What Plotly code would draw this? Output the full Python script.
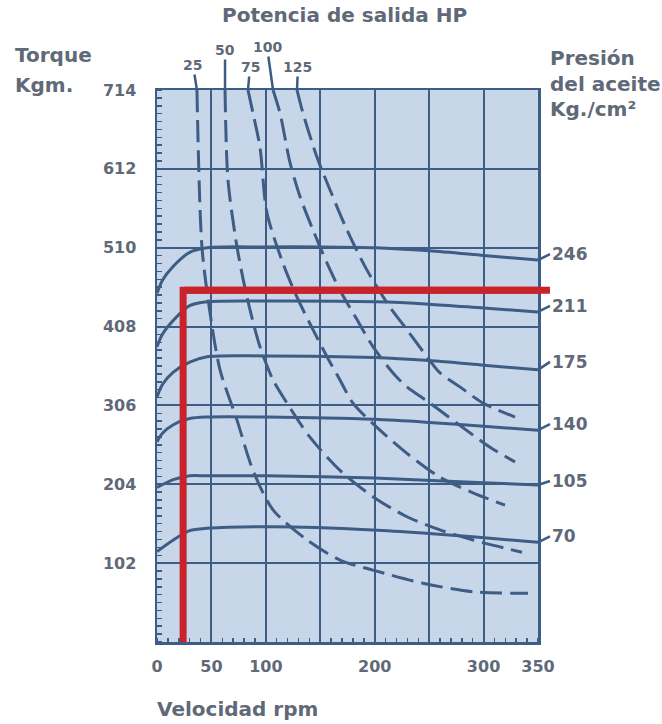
import plotly.graph_objects as go

# ---------------- data ----------------
rpm_ticks = [0, 50, 100, 150, 200, 250, 300, 350]
rpm_labels = ["0", "50", "100", "", "200", "", "300", "350"]
torque_ticks = [0, 102, 204, 306, 408, 510, 612, 714]
torque_labels = ["", "102", "204", "306", "408", "510", "612", "714"]

# oil-pressure curves (Kg/cm2): torque (Kgm) vs speed (rpm)
p246_rpm = [0, 5, 15, 30, 46, 100, 150, 200, 250, 300, 350]
p246_torque = [451, 468, 486, 504, 510, 511, 511, 510, 506, 500, 494]
p211_rpm = [0, 5, 15, 30, 46, 100, 200, 250, 300, 350]
p211_torque = [382, 398, 416, 435, 440, 441, 440, 437, 432, 427]
p175_rpm = [0, 5, 15, 30, 46, 100, 200, 250, 300, 350]
p175_torque = [317, 333, 349, 362, 369, 370, 368, 364, 358, 352]
p140_rpm = [0, 5, 15, 30, 46, 100, 200, 250, 300, 350]
p140_torque = [259, 270, 281, 289, 291, 291, 288, 284, 279, 274]
p105_rpm = [0, 15, 30, 46, 100, 200, 300, 350]
p105_torque = [200, 210, 215, 215, 215, 212, 206, 203]
p70_rpm = [0, 15, 30, 46, 107, 198, 244, 290, 350]
p70_torque = [117, 132, 144, 147, 149, 145, 141, 136, 129]
pressure_labels = ["246", "211", "175", "140", "105", "70"]

# output-power curves (HP), dashed
hp25_rpm = [36.7, 41.3, 48.7, 57.9, 73.5, 88.2, 106.6, 137.8, 168.1, 198.4, 244.3, 290.3, 340.8]
hp25_torque = [714, 511, 426, 352, 287, 222, 171, 132, 106, 93, 76, 65, 63]
hp50_rpm = [62.5, 65.2, 73.5, 82.7, 94.6, 106.6, 119.4, 140.5, 168.1, 198.4, 229.6, 260, 290.3, 335.3]
hp50_torque = [714, 598, 511, 446, 382, 339, 309, 265, 222, 188, 162, 145, 132, 116]
hp75_rpm = [83.6, 88.2, 94.6, 101, 115.7, 128.6, 143.3, 156.2, 168.1, 180, 204.8, 229.6, 260, 290.3, 319.7]
hp75_torque = [714, 684, 640, 555, 490, 446, 404, 369, 339, 309, 274, 244, 213, 193, 177]
hp100_rpm = [106.6, 113, 122.2, 131.4, 143.3, 156.2, 168.1, 183.7, 198.4, 216.8, 229.6, 250.8, 275.6, 305.9, 328.9]
hp100_torque = [714, 684, 620, 576, 533, 490, 455, 417, 382, 348, 330, 309, 283, 252, 233]
hp125_rpm = [128.6, 134.1, 147, 158.9, 174.5, 192.9, 214, 229.6, 248, 260, 278.3, 299.5, 328.9]
hp125_torque = [714, 684, 627, 585, 533, 481, 433, 404, 369, 348, 330, 309, 291]
hp_labels = ["25", "50", "75", "100", "125"]

# operating point (red)
op_rpm = [24, 24, 361]
op_torque = [0, 455, 455]

# ---------------- style ----------------
BLUE = "#3e5d84"
BG = "#c8d6ea"
TXT = "#5f6977"
RED = "#c8232b"
FONT = "DejaVu Sans"

fig = go.Figure()

pressure_series = [
    (p246_rpm, p246_torque), (p211_rpm, p211_torque), (p175_rpm, p175_torque),
    (p140_rpm, p140_torque), (p105_rpm, p105_torque), (p70_rpm, p70_torque),
]
for (xs, ys), lab in zip(pressure_series, pressure_labels):
    fig.add_trace(go.Scatter(x=xs, y=ys, mode="lines", name=lab,
                             line=dict(color=BLUE, width=3, shape="spline", smoothing=0.8),
                             hoverinfo="skip", showlegend=False))

hp_series = [
    (hp25_rpm, hp25_torque), (hp50_rpm, hp50_torque), (hp75_rpm, hp75_torque),
    (hp100_rpm, hp100_torque), (hp125_rpm, hp125_torque),
]
for (xs, ys), lab in zip(hp_series, hp_labels):
    fig.add_trace(go.Scatter(x=xs, y=ys, mode="lines", name=lab + " HP",
                             line=dict(color=BLUE, width=3, dash="22px,8px",
                                       shape="spline", smoothing=0.8),
                             hoverinfo="skip", showlegend=False))

fig.add_trace(go.Scatter(x=op_rpm, y=op_torque, mode="lines",
                         line=dict(color=RED, width=7), hoverinfo="skip",
                         showlegend=False))

annotations = []
# red horizontal line overshoots the right border
annotations.append(dict(x=op_rpm[2], y=op_torque[2], ax=op_rpm[1], ay=op_torque[1],
                        xref="x", yref="y", axref="x", ayref="y", text="",
                        showarrow=True, arrowhead=0, arrowwidth=7, arrowcolor=RED))

# pressure labels at right end of each curve
label_offsets = [-6, -6, -8, -6, -4, -6]
for (xs, ys), lab, off in zip(pressure_series, pressure_labels, label_offsets):
    annotations.append(dict(x=xs[-1], y=ys[-1], xref="x", yref="y", text="<b>%s</b>" % lab,
                            showarrow=True, arrowhead=0, arrowwidth=2.5, arrowcolor=BLUE,
                            ax=12, ay=off, xanchor="left",
                            font=dict(family=FONT, size=17, color=TXT)))

# HP labels above plot with leader lines
hp_offsets = [(-4, -25), (0, -40), (2, -23), (-6, -43), (1, -23)]
for (xs, ys), lab, (dx, dy) in zip(hp_series, hp_labels, hp_offsets):
    annotations.append(dict(x=xs[0], y=ys[0], xref="x", yref="y", text="<b>%s</b>" % lab,
                            showarrow=True, arrowhead=0, arrowwidth=2.5, arrowcolor=BLUE,
                            ax=dx, ay=dy,
                            font=dict(family=FONT, size=14, color=TXT)))

def ptext(txt, x, y, size=20, xanchor="left"):
    return dict(text="<b>%s</b>" % txt, x=x, y=y, xref="paper", yref="paper",
                xanchor=xanchor, yanchor="middle", showarrow=False,
                font=dict(family=FONT, size=size, color=TXT))

annotations += [
    ptext("Potencia de salida HP", 0.491, 1.136, 20, "center"),
    ptext("Torque", -0.378, 1.063),
    ptext("Kgm.", -0.378, 1.009),
    ptext("Presión", 1.026, 1.058),
    ptext("del aceite", 1.026, 1.011),
    ptext("Kg./cm²", 1.026, 0.966),
    ptext("Velocidad rpm", -0.005, -0.121),
]

fig.update_layout(
    width=662, height=724,
    margin=dict(l=157, r=124, t=90, b=82),
    paper_bgcolor="white", plot_bgcolor=BG,
    showlegend=False,
    annotations=annotations,
    font=dict(family=FONT, color=TXT),
)

fig.update_xaxes(
    range=[0, 350], tickmode="array", tickvals=rpm_ticks, ticktext=rpm_labels,
    showgrid=True, gridcolor=BLUE, gridwidth=2, zeroline=False,
    showline=True, linecolor=BLUE, linewidth=2.5, mirror=True,
    ticks="", ticklabelstandoff=8,
    tickfont=dict(family=FONT, size=16, color=TXT, weight="bold"),
    minor=dict(ticks="inside", ticklen=4, tickcolor=BLUE, tickwidth=1.5,
               tickmode="linear", tick0=0, dtick=10, showgrid=False),
    fixedrange=True,
)
fig.update_yaxes(
    range=[0, 714], tickmode="array", tickvals=torque_ticks, ticktext=torque_labels,
    showgrid=True, gridcolor=BLUE, gridwidth=2, zeroline=False,
    showline=True, linecolor=BLUE, linewidth=2.5, mirror=True,
    ticks="", ticklabelstandoff=15,
    tickfont=dict(family=FONT, size=16, color=TXT, weight="bold"),
    minor=dict(ticks="inside", ticklen=5, tickcolor=BLUE, tickwidth=1.5,
               tickmode="linear", tick0=0, dtick=10.2, showgrid=False),
    fixedrange=True,
)

fig.write_html(
    "out.html",
    config={"displayModeBar": False, "staticPlot": True},
    post_script="document.body.style.margin='0';document.body.style.padding='0';"
                "document.body.style.overflow='hidden';",
)
